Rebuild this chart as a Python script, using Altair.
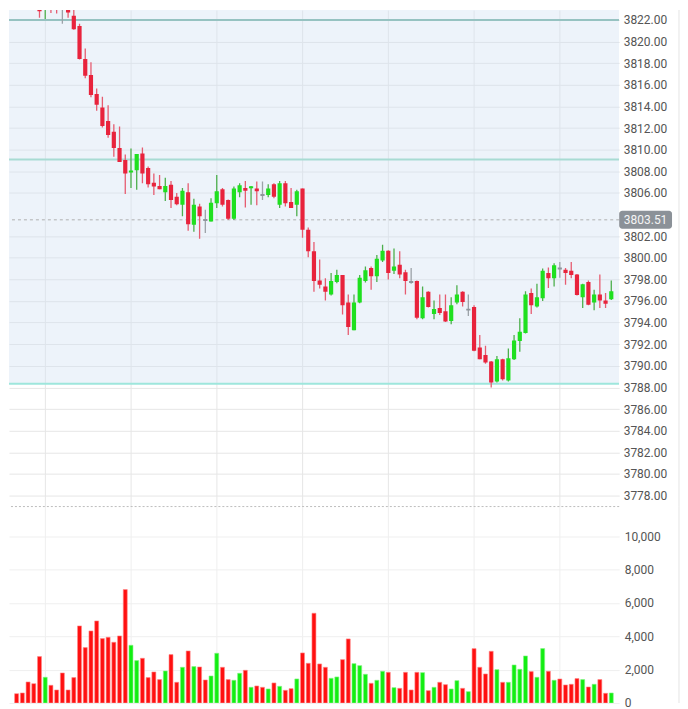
import altair as alt
import pandas as pd

# ---------------- data ----------------
opens = [
    3826.0, 3825.4, 3825.0, 3824.5, 3824.0, 3823.1, 3823.6, 3823.7, 3823.1, 3823.0,
    3822.4, 3821.45, 3818.4, 3816.9, 3815.15, 3813.9, 3812.65, 3811.65, 3810.15, 3809.05,
    3807.9, 3808.1, 3809.65, 3808.3, 3806.95, 3806.65, 3806.05, 3806.75, 3805.65, 3804.9,
    3806.05, 3803.05, 3804.75, 3803.5, 3803.35, 3805.05, 3806.35, 3805.35, 3803.6, 3806.05,
    3806.45, 3806.45, 3806.4, 3805.8, 3805.8, 3806.8, 3804.9, 3806.9, 3805.15, 3804.9,
    3806.4, 3802.6, 3800.6, 3797.9, 3797.35, 3796.6, 3797.75, 3798.4, 3795.85, 3793.3,
    3795.85, 3797.85, 3799.05, 3798.3, 3799.75, 3800.65, 3798.8, 3799.35, 3798.65, 3797.75,
    3797.85, 3794.4, 3796.85, 3794.8, 3795.35, 3795.05, 3794.15, 3795.85, 3796.85, 3795.2,
    3795.45, 3791.7, 3791.0, 3790.4, 3788.55, 3790.6, 3788.65, 3790.6, 3792.3, 3793.05,
    3796.75, 3795.5, 3796.25, 3798.6, 3798.1, 3799.0, 3798.9, 3798.8, 3798.45, 3796.35,
    3797.75, 3795.85, 3796.6, 3796.05, 3796.15,
]
highs = [
    3826.4, 3825.8, 3825.3, 3824.9, 3824.5, 3824.0, 3824.0, 3824.1, 3823.6, 3823.4,
    3823.4, 3821.65, 3819.35, 3818.1, 3815.65, 3814.9, 3814.1, 3812.35, 3812.15, 3809.55,
    3810.1, 3809.6, 3810.2, 3808.45, 3807.8, 3807.65, 3807.4, 3807.1, 3806.0, 3806.45,
    3806.9, 3805.45, 3805.0, 3804.45, 3805.5, 3807.65, 3806.45, 3805.4, 3806.6, 3806.9,
    3807.1, 3806.65, 3807.05, 3807.05, 3806.8, 3806.9, 3807.1, 3807.1, 3806.45, 3806.3,
    3806.4, 3802.8, 3801.45, 3799.85, 3798.1, 3798.6, 3798.9, 3798.4, 3796.6, 3796.6,
    3798.4, 3799.2, 3799.2, 3800.25, 3801.2, 3800.7, 3800.85, 3800.6, 3798.9, 3799.05,
    3797.9, 3797.35, 3796.9, 3796.05, 3796.6, 3796.6, 3796.35, 3797.45, 3796.9, 3796.6,
    3795.6, 3792.85, 3791.85, 3790.45, 3790.9, 3790.65, 3791.6, 3792.85, 3794.4, 3796.9,
    3797.15, 3797.6, 3799.0, 3799.1, 3799.5, 3799.6, 3799.05, 3799.6, 3798.5, 3797.6,
    3797.9, 3797.05, 3798.45, 3796.75, 3797.9,
]
lows = [
    3825.1, 3824.7, 3824.1, 3823.8, 3822.2, 3822.1, 3822.65, 3822.6, 3821.65, 3822.2,
    3821.1, 3818.35, 3816.6, 3814.85, 3813.6, 3812.05, 3811.1, 3809.35, 3808.85, 3805.9,
    3806.45, 3806.3, 3806.9, 3806.5, 3805.8, 3806.35, 3805.25, 3804.6, 3804.85, 3803.85,
    3802.5, 3802.4, 3801.75, 3802.3, 3803.35, 3804.6, 3804.75, 3803.5, 3803.5, 3805.6,
    3804.65, 3804.9, 3804.85, 3805.35, 3805.6, 3805.5, 3804.6, 3804.75, 3804.6, 3803.85,
    3801.85, 3800.05, 3796.85, 3797.15, 3796.05, 3796.5, 3797.65, 3794.75, 3792.85, 3793.3,
    3795.8, 3797.7, 3797.05, 3797.75, 3799.6, 3798.0, 3798.5, 3798.1, 3796.6, 3797.6,
    3794.3, 3794.3, 3795.4, 3794.3, 3794.7, 3794.05, 3793.85, 3795.7, 3795.5, 3794.6,
    3791.35, 3790.6, 3790.2, 3788.0, 3788.45, 3788.65, 3788.55, 3790.55, 3791.3, 3793.0,
    3794.8, 3795.4, 3796.0, 3797.2, 3797.35, 3798.15, 3797.5, 3798.1, 3796.5, 3795.35,
    3795.6, 3795.15, 3795.35, 3795.35, 3796.1,
]
closes = [
    3825.4, 3825.0, 3824.4, 3824.1, 3822.8, 3823.7, 3823.1, 3823.1, 3823.1, 3822.7,
    3821.15, 3818.4, 3816.85, 3815.05, 3814.15, 3812.2, 3811.35, 3810.15, 3808.85, 3807.8,
    3808.05, 3809.6, 3807.8, 3806.8, 3806.6, 3806.35, 3806.65, 3805.35, 3804.95, 3806.2,
    3803.1, 3804.9, 3803.85, 3803.5, 3805.1, 3806.15, 3804.9, 3803.6, 3806.4, 3806.7,
    3806.2, 3806.6, 3806.15, 3805.8, 3806.4, 3805.65, 3806.9, 3805.05, 3804.6, 3806.15,
    3802.6, 3800.6, 3797.85, 3797.5, 3796.85, 3797.85, 3798.4, 3795.6, 3793.6, 3795.85,
    3798.15, 3798.85, 3798.3, 3799.9, 3800.65, 3798.6, 3799.2, 3798.45, 3797.85, 3797.75,
    3794.45, 3796.35, 3795.45, 3795.25, 3794.9, 3794.1, 3795.6, 3796.6, 3795.9, 3795.2,
    3791.4, 3790.6, 3790.3, 3788.45, 3790.6, 3788.75, 3790.7, 3792.35, 3793.15, 3796.6,
    3795.6, 3796.35, 3798.8, 3798.1, 3799.3, 3799.0, 3798.6, 3798.4, 3796.55, 3797.55,
    3795.65, 3796.6, 3796.05, 3795.75, 3796.9,
]
volumes = [
    560, 600, 1260, 1160, 2780, 1540, 1060, 780, 1800, 780,
    1520, 4620, 3320, 4320, 4920, 3860, 3940, 3640, 4020, 6800,
    3460, 2540, 2680, 1520, 1860, 1400, 1920, 2900, 1240, 2140,
    3120, 2180, 2160, 1380, 1620, 2980, 2140, 1400, 1360, 1780,
    1960, 940, 1020, 940, 840, 1200, 1000, 760, 860, 1440,
    3000, 2380, 5380, 2340, 2140, 1480, 1560, 2600, 3840, 2360,
    2240, 1720, 1180, 1360, 1900, 1840, 920, 880, 1840, 780,
    1840, 1820, 740, 940, 1240, 1100, 840, 1340, 880, 680,
    3260, 2140, 1740, 3100, 2000, 1240, 1240, 2280, 2020, 2820,
    1880, 1540, 3260, 1900, 1360, 1440, 1080, 1120, 1460, 1400,
    960, 1120, 1400, 580, 600,
]
volume_side = list(
    "rrrrrgrrrr" "rrrrrrrrrr" "ggrrrrgrrg" "rgrrggrrgg" "rgrrgrgrrg"
    "rrrrrggrrg" "ggrggrgrrr" "rgrgrrggrg" "rrrrgrgggg" "rggrgrrrrg" "rgrrg"
)
# 3804.00 sits under the last-price tag in the reference
price_ticks = [3778 + 2 * k for k in range(23) if 3778 + 2 * k != 3804]
volume_ticks = [0, 2000, 4000, 6000, 8000, 10000]
time_grid = [5, 20, 35, 50, 65, 80, 95]
level_prices = [3822.0, 3809.1, 3788.35]
level_colors = ["#96c2c1", "#a8dbd3", "#9ee6dc"]
zone_bottom = 3788.35
last_price = 3803.51
last_label = "3803.51"

# ---------------- colours ----------------
BODY = {"up": "#1fe01f", "down": "#e8233c", "flat": "#8f959c"}
WICK = {"up": "#4caf4c", "down": "#e65c70", "flat": "#9ca2a8"}
VFILL = {"g": "#12ee12", "r": "#ff1010"}
VSTROKE = {"g": "#86f486", "r": "#ff8a8a"}

# ---------------- build tables ----------------
rows = []
for i, (o, h, l, c) in enumerate(zip(opens, highs, lows, closes)):
    d = "up" if c > o else ("down" if c < o else "flat")
    top, bot = max(o, c), min(o, c)
    if top - bot < 0.18:
        mid = (top + bot) / 2
        top, bot = mid + 0.09, mid - 0.09
    rows.append(dict(idx=i, open=o, high=h, low=l, close=c,
                     body_top=top, body_bot=bot,
                     body_col=BODY[d], wick_col=WICK[d]))
candles = pd.DataFrame(rows)
vol_df = pd.DataFrame({
    "idx": list(range(len(volumes))),
    "vol": volumes,
    "fill_col": [VFILL[s] for s in volume_side],
    "stroke_col": [VSTROKE[s] for s in volume_side],
})
levels_df = pd.DataFrame({"price": level_prices, "lc": level_colors})
one = pd.DataFrame({"a": [0]})

W = 612
PH = 498
VH = 197

x_scale = alt.Scale(domain=[-0.463, 104.51], nice=False, zero=False)
price_scale = alt.Scale(domain=[3776.98, 3822.92], nice=False, zero=False)
vol_scale = alt.Scale(domain=[0, 11775], nice=False, zero=False)

x_axis_p = alt.Axis(values=time_grid, labels=False, ticks=False, domain=False,
                    title=None, grid=True, gridColor="#e6e6e6")
x_axis_v = alt.Axis(values=time_grid, labels=False, ticks=False, domain=False,
                    title=None, grid=True, gridColor="#efefef")
y_axis_p = alt.Axis(orient="right", values=price_ticks, format=".2f",
                    labelPadding=4, ticks=False, domain=False, title=None,
                    grid=True, gridColor="#e6e6e6", labelOverlap=False)
y_axis_v = alt.Axis(orient="right", values=volume_ticks, format=",.0f",
                    labelPadding=5, ticks=False, domain=False, title=None,
                    grid=True, gridColor="#efefef", labelOverlap=False)

X = alt.X("idx:Q", scale=x_scale, axis=x_axis_p)

zone = alt.Chart(one).mark_rect(color="#d2e1f2", opacity=0.4, clip=True).encode(
    x=alt.value(0), x2=alt.value(W),
    y=alt.YDatum(zone_bottom, scale=price_scale, axis=y_axis_p),
    y2=alt.value(0),
)
level_rules = alt.Chart(levels_df).mark_rule(strokeWidth=2, clip=True).encode(
    y=alt.Y("price:Q", scale=price_scale, axis=y_axis_p),
    color=alt.Color("lc:N", scale=None),
)
last_rule = alt.Chart(one).mark_rule(color="#b0b0b0", strokeDash=[3, 3],
                                     strokeWidth=1).encode(
    y=alt.YDatum(last_price, scale=price_scale, axis=y_axis_p),
)
wicks = alt.Chart(candles).mark_rule(strokeWidth=1.3, clip=True).encode(
    x=X,
    y=alt.Y("low:Q", scale=price_scale, axis=y_axis_p),
    y2="high:Q",
    color=alt.Color("wick_col:N", scale=None),
)
bodies = alt.Chart(candles).mark_bar(width=4.2, clip=True).encode(
    x=X,
    y=alt.Y("body_top:Q", scale=price_scale, axis=y_axis_p),
    y2="body_bot:Q",
    color=alt.Color("body_col:N", scale=None),
)
label_box = alt.Chart(one).mark_rect(color="#8b9198", cornerRadius=3).encode(
    x=alt.value(W), x2=alt.value(W + 53),
    y=alt.YDatum(last_price + 0.83, scale=price_scale, axis=y_axis_p),
    y2=alt.datum(last_price - 0.83),
)
label_text = alt.Chart(one).mark_text(color="#f4f4f4", fontSize=12, font="Roboto",
                                      align="center", baseline="middle").encode(
    x=alt.value(W + 26.5),
    y=alt.YDatum(last_price, scale=price_scale, axis=y_axis_p),
    text=alt.value(last_label),
)
edge_p = alt.Chart(one).mark_rule(color="#e4e4e4").encode(x=alt.value(672))

price = alt.layer(zone, level_rules, last_rule, wicks, bodies, label_box,
                  label_text, edge_p).properties(width=W, height=PH)

vol_bars = alt.Chart(vol_df).mark_bar(width=4.0, strokeWidth=0.6, clip=True).encode(
    x=alt.X("idx:Q", scale=x_scale, axis=x_axis_v),
    y=alt.Y("vol:Q", scale=vol_scale, axis=y_axis_v),
    color=alt.Color("fill_col:N", scale=None),
    stroke=alt.Stroke("stroke_col:N", scale=None),
)
sep = alt.Chart(one).mark_rule(color="#bdbdbd", strokeDash=[2, 2]).encode(
    y=alt.value(0))
edge_v = alt.Chart(one).mark_rule(color="#e4e4e4").encode(x=alt.value(672))

volume = alt.layer(vol_bars, sep, edge_v).properties(width=W, height=VH)

chart = alt.vconcat(price, volume, spacing=0, bounds="flush").properties(
    padding=0
).configure_view(stroke=None).configure_axis(
    labelFont="Roboto", labelFontSize=12, labelColor="#555555"
)

chart.save("out.html", embed_options={"renderer": "svg", "actions": False})
